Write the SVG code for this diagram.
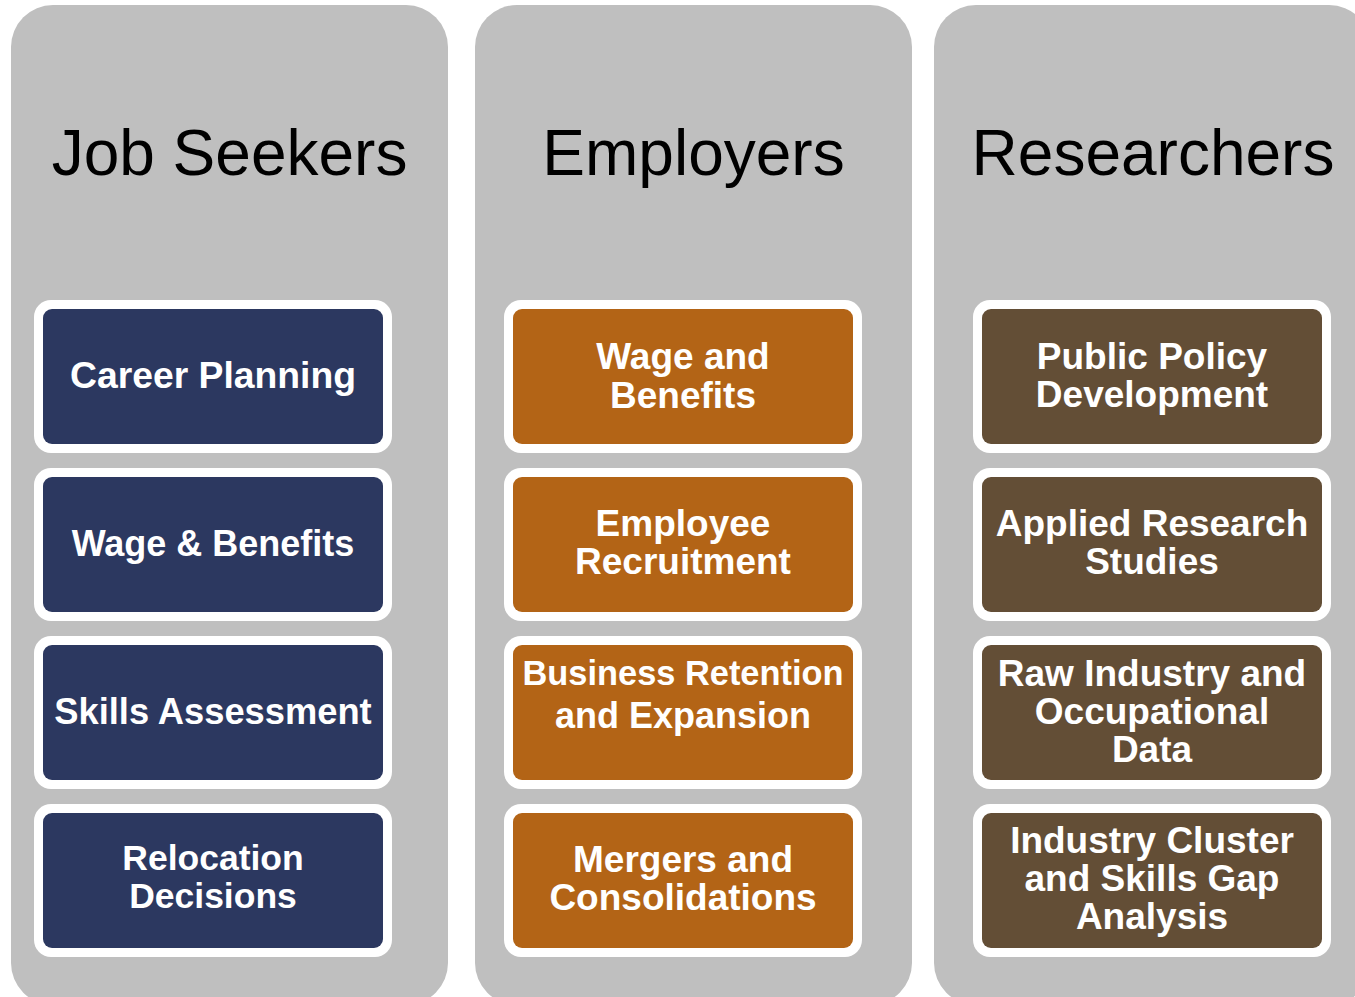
<svg xmlns="http://www.w3.org/2000/svg" width="1355" height="997" viewBox="0 0 1355 997">
<style>
.col{fill:#BFBFBF}
.title{font-family:"Liberation Sans",Arial,sans-serif;font-size:64px;fill:#000;text-anchor:middle}
.frame{fill:#FFFFFF}
.navy{fill:#2C3860}
.orange{fill:#B36416}
.brown{fill:#634E36}
.lbl{font-family:"Liberation Sans",Arial,sans-serif;font-weight:bold;font-size:37px;fill:#FFFFFF;text-anchor:middle}
</style>
<rect width="1355" height="997" fill="#FFFFFF"/>
<g id="columns">
<g id="col-jobseekers"><rect class="col" x="11" y="5" width="437" height="1000" rx="42"/><text class="title" x="229.5" y="174.5">Job Seekers</text></g>
<g id="col-employers"><rect class="col" x="475" y="5" width="437" height="1000" rx="42"/><text class="title" x="693.5" y="174.5">Employers</text></g>
<g id="col-researchers"><rect class="col" x="934" y="5" width="437" height="1000" rx="42"/><text class="title" x="1153" y="174.5">Researchers</text></g>
</g>
<g id="connectors"></g>
<g id="js1"><rect class="frame" x="34" y="300" width="358" height="153" rx="17"/><rect class="navy" x="43" y="309" width="340" height="135" rx="9"/><text class="lbl" x="213" y="388" style="font-size:37.3px">Career Planning</text></g>
<g id="js2"><rect class="frame" x="34" y="468" width="358" height="153" rx="17"/><rect class="navy" x="43" y="477" width="340" height="135" rx="9"/><text class="lbl" x="213" y="556" style="font-size:36px">Wage &amp; Benefits</text></g>
<g id="js3"><rect class="frame" x="34" y="636" width="358" height="153" rx="17"/><rect class="navy" x="43" y="645" width="340" height="135" rx="9"/><text class="lbl" x="213" y="724" style="font-size:36.3px">Skills Assessment</text></g>
<g id="js4"><rect class="frame" x="34" y="804" width="358" height="153" rx="17"/><rect class="navy" x="43" y="813" width="340" height="135" rx="9"/><text class="lbl" x="213" y="870" style="font-size:35.5px">Relocation</text><text class="lbl" x="213" y="907.5" style="font-size:35.5px">Decisions</text></g>
<g id="em1"><rect class="frame" x="504" y="300" width="358" height="153" rx="17"/><rect class="orange" x="513" y="309" width="340" height="135" rx="9"/><text class="lbl" x="683" y="368.5">Wage and</text><text class="lbl" x="683" y="407.5">Benefits</text></g>
<g id="em2"><rect class="frame" x="504" y="468" width="358" height="153" rx="17"/><rect class="orange" x="513" y="477" width="340" height="135" rx="9"/><text class="lbl" x="683" y="536">Employee</text><text class="lbl" x="683" y="574">Recruitment</text></g>
<g id="em3"><rect class="frame" x="504" y="636" width="358" height="153" rx="17"/><rect class="orange" x="513" y="645" width="340" height="135" rx="9"/><text class="lbl" x="683" y="684.5" style="font-size:34.4px">Business Retention</text><text class="lbl" x="683" y="727.5" style="font-size:36px">and Expansion</text></g>
<g id="em4"><rect class="frame" x="504" y="804" width="358" height="153" rx="17"/><rect class="orange" x="513" y="813" width="340" height="135" rx="9"/><text class="lbl" x="683" y="871.5">Mergers and</text><text class="lbl" x="683" y="909.5">Consolidations</text></g>
<g id="rs1"><rect class="frame" x="973" y="300" width="358" height="153" rx="17"/><rect class="brown" x="982" y="309" width="340" height="135" rx="9"/><text class="lbl" x="1152" y="369">Public Policy</text><text class="lbl" x="1152" y="407">Development</text></g>
<g id="rs2"><rect class="frame" x="973" y="468" width="358" height="153" rx="17"/><rect class="brown" x="982" y="477" width="340" height="135" rx="9"/><text class="lbl" x="1152" y="536">Applied Research</text><text class="lbl" x="1152" y="574">Studies</text></g>
<g id="rs3"><rect class="frame" x="973" y="636" width="358" height="153" rx="17"/><rect class="brown" x="982" y="645" width="340" height="135" rx="9"/><text class="lbl" x="1152" y="686">Raw Industry and</text><text class="lbl" x="1152" y="724">Occupational</text><text class="lbl" x="1152" y="762">Data</text></g>
<g id="rs4"><rect class="frame" x="973" y="804" width="358" height="153" rx="17"/><rect class="brown" x="982" y="813" width="340" height="135" rx="9"/><text class="lbl" x="1152" y="853">Industry Cluster</text><text class="lbl" x="1152" y="891">and Skills Gap</text><text class="lbl" x="1152" y="929">Analysis</text></g>
</svg>
